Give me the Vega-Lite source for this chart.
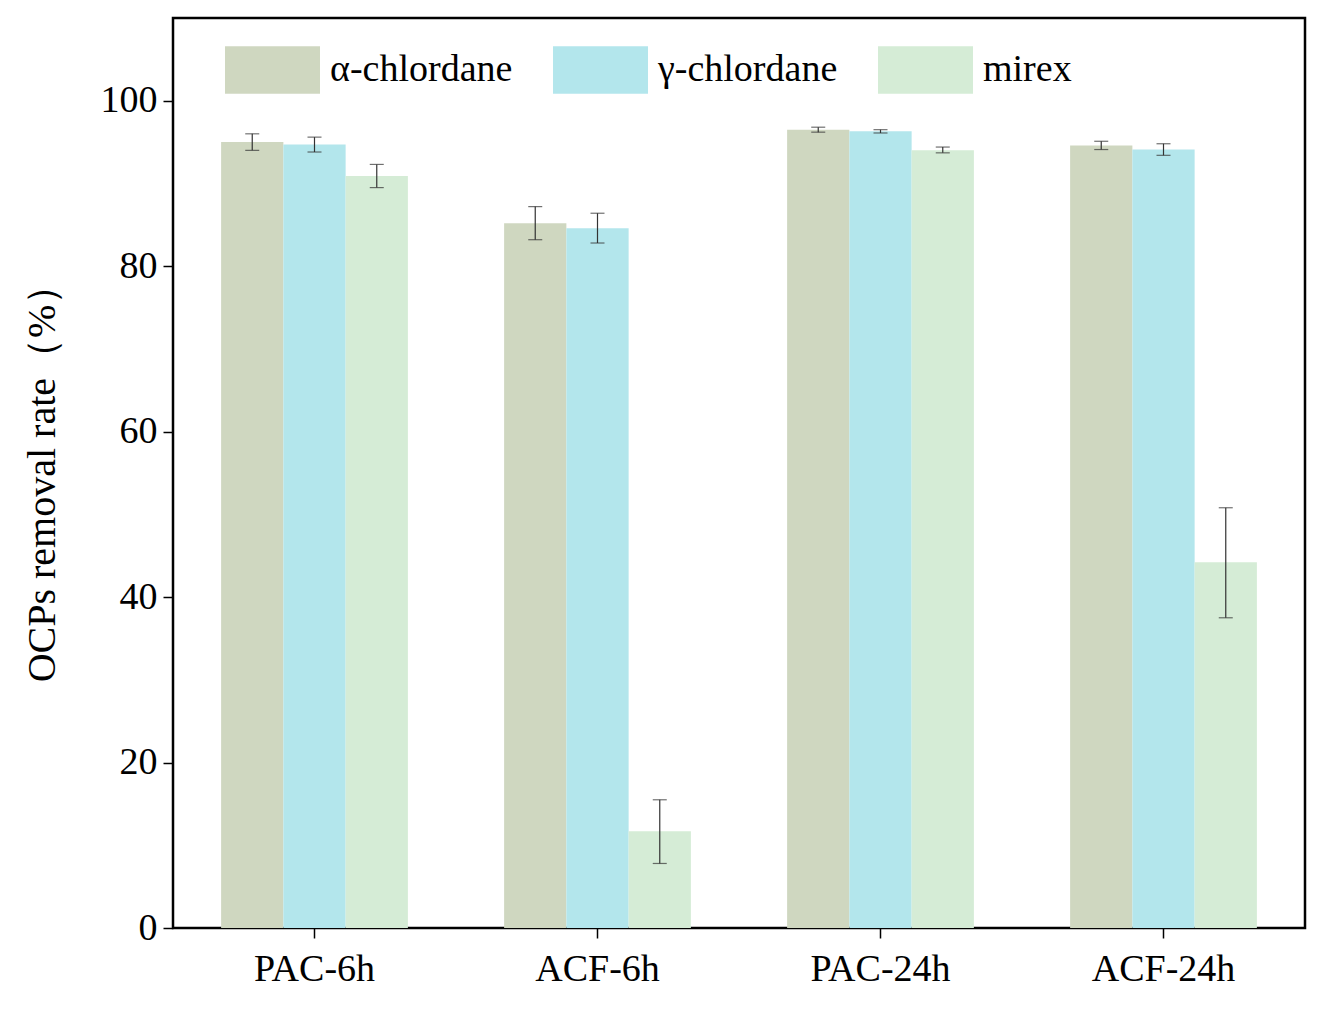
{
  "$schema": "https://vega.github.io/schema/vega-lite/v6.json",
  "width": 1132,
  "height": 910,
  "autosize": "none",
  "padding": {"left": 173, "top": 18, "right": 14, "bottom": 86},
  "background": "white",
  "data": {"values": [
    {"g": "PAC-6h", "s": "α-chlordane", "v": 95.0, "lo": 94.0, "hi": 96.0},
    {"g": "PAC-6h", "s": "γ-chlordane", "v": 94.7, "lo": 93.8, "hi": 95.6},
    {"g": "PAC-6h", "s": "mirex", "v": 90.9, "lo": 89.5, "hi": 92.3},
    {"g": "ACF-6h", "s": "α-chlordane", "v": 85.2, "lo": 83.2, "hi": 87.2},
    {"g": "ACF-6h", "s": "γ-chlordane", "v": 84.6, "lo": 82.8, "hi": 86.4},
    {"g": "ACF-6h", "s": "mirex", "v": 11.7, "lo": 7.8, "hi": 15.5},
    {"g": "PAC-24h", "s": "α-chlordane", "v": 96.5, "lo": 96.2, "hi": 96.8},
    {"g": "PAC-24h", "s": "γ-chlordane", "v": 96.3, "lo": 96.1, "hi": 96.5},
    {"g": "PAC-24h", "s": "mirex", "v": 94.0, "lo": 93.7, "hi": 94.4},
    {"g": "ACF-24h", "s": "α-chlordane", "v": 94.6, "lo": 94.1, "hi": 95.1},
    {"g": "ACF-24h", "s": "γ-chlordane", "v": 94.1, "lo": 93.4, "hi": 94.8},
    {"g": "ACF-24h", "s": "mirex", "v": 44.2, "lo": 37.5, "hi": 50.8}
  ]},
  "encoding": {
    "x": {"field": "g", "type": "nominal", "sort": ["PAC-6h", "ACF-6h", "PAC-24h", "ACF-24h"],
      "scale": {"paddingInner": 0.34, "paddingOuter": 0.17},
      "axis": {"title": null, "labelAngle": 0, "labelFontSize": 38, "labelColor": "black", "domain": false, "tickColor": "black", "tickSize": 10, "tickWidth": 1.5, "labelPadding": 12}},
    "xOffset": {"field": "s", "type": "nominal", "sort": ["α-chlordane", "γ-chlordane", "mirex"]}
  },
  "layer": [
    {
      "mark": {"type": "bar"},
      "encoding": {
        "y": {"field": "v", "type": "quantitative", "scale": {"domain": [0, 110], "nice": false},
          "axis": {"title": "OCPs removal rate（%）", "titleFontSize": 40, "titleFontWeight": "normal", "titleColor": "black", "titlePadding": 38, "values": [0, 20, 40, 60, 80, 100], "grid": false, "labelFontSize": 38, "labelColor": "black", "labelPadding": 6, "domain": false, "tickColor": "black", "tickSize": 10, "tickWidth": 1.5}},
        "color": {"field": "s", "type": "nominal", "sort": ["α-chlordane", "γ-chlordane", "mirex"],
          "scale": {"range": ["#cfd7c0", "#b3e6ec", "#d5ecd6"]},
          "legend": {"title": null, "orient": "none", "legendX": 52, "legendY": 4, "direction": "horizontal", "columns": 3, "symbolType": "M-1,-0.5H1V0.5H-1Z", "symbolSize": 9025, "symbolStrokeWidth": 0, "symbolOpacity": 1, "labelFontSize": 38, "labelColor": "black", "labelOffset": 10, "columnPadding": 40, "labelLimit": 400}}
      }
    },
    {
      "mark": {"type": "rule", "color": "#333", "strokeWidth": 1.2},
      "encoding": {"y": {"field": "lo", "type": "quantitative"}, "y2": {"field": "hi"}}
    },
    {
      "mark": {"type": "tick", "color": "#333", "thickness": 1.2, "size": 14},
      "encoding": {"y": {"field": "lo", "type": "quantitative"}}
    },
    {
      "mark": {"type": "tick", "color": "#333", "thickness": 1.2, "size": 14},
      "encoding": {"y": {"field": "hi", "type": "quantitative"}}
    }
  ],
  "config": {
    "font": "Liberation Serif",
    "view": {"stroke": "black", "strokeWidth": 2.5}
  }
}
